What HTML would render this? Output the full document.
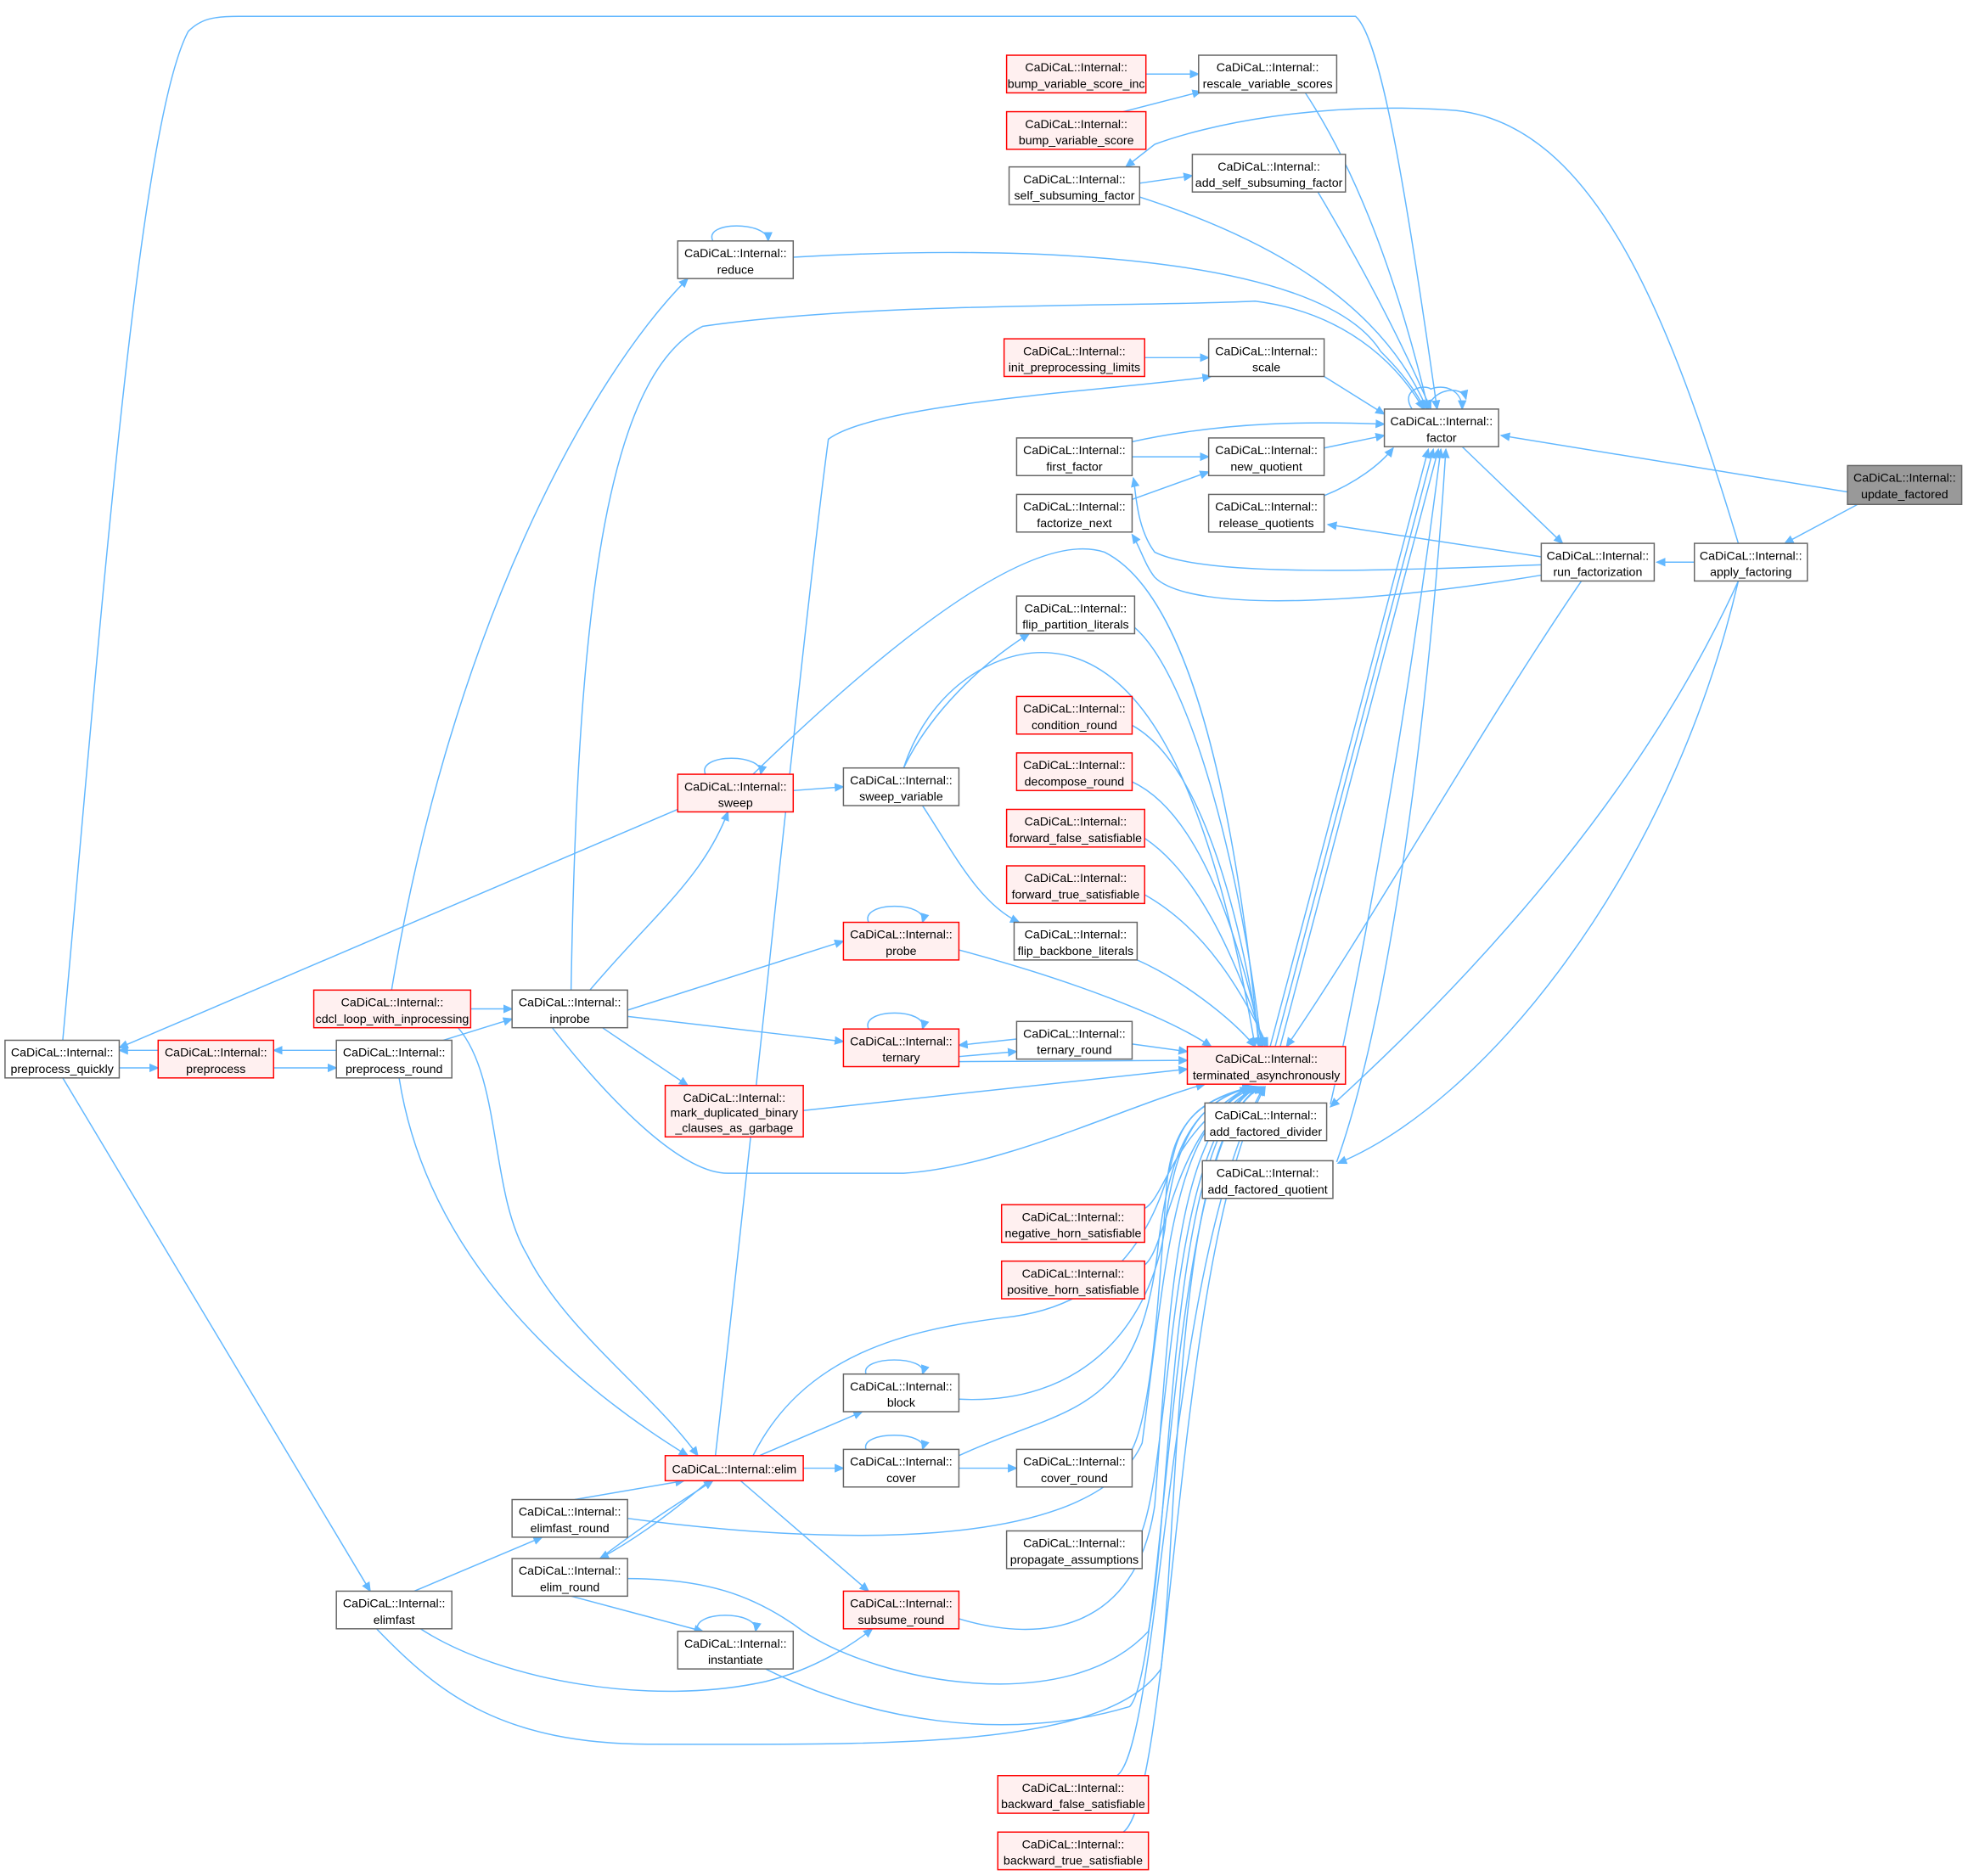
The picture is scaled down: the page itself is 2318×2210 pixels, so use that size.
<!DOCTYPE html>
<html><head><meta charset="utf-8"><style>
html,body{margin:0;padding:0;background:#fff;}
svg{display:block;}
text{font-family:"Liberation Sans",sans-serif;font-size:9.6px;fill:#000;text-anchor:middle;}
.e{fill:none;stroke:#63b8ff;stroke-width:1;}
.n{fill:#fff;stroke:#666;stroke-width:1;}
.r{fill:#fff0f0;stroke:#ff0000;stroke-width:1;}
</style></head><body>
<svg width="2318" height="2210" viewBox="0 0 1568 1495" preserveAspectRatio="none" xmlns="http://www.w3.org/2000/svg">
<defs><marker id="a" markerWidth="8" markerHeight="8" refX="7" refY="3.5" orient="auto" markerUnits="userSpaceOnUse"><path d="M0,0 L8,3.5 L0,7 z" fill="#63b8ff"/></marker></defs>
<g class="e" marker-end="url(#a)">
<!-- right side -->
<path d="M1472,392 L1196,347"/>
<path d="M1480,402 L1422,433"/>
<path d="M1350,448 L1320,448"/>
<path d="M1385,433 C1330,250 1270,100 1160,88 C1050,80 960,100 920,115 L897,133"/>
<path d="M1385,463 C1300,650 1150,800 1060,882"/>
<path d="M1385,463 C1330,700 1180,880 1066,927"/>
<path d="M1165,356 L1245,433"/>
<path d="M1230,444 L1058,418"/>
<path d="M1230,450 C1100,455 960,460 920,440 C905,420 905,390 903,381"/>
<path d="M1230,458 C1100,480 950,490 920,460 C912,450 908,435 902,426"/>
<path d="M1260,463 C1180,580 1090,740 1025,834"/>
<!-- into factor -->
<path d="M1040,74 C1090,150 1120,250 1138,326"/>
<path d="M1050,153 C1090,220 1120,280 1140,326"/>
<path d="M908,157 C1010,190 1100,240 1137,326"/>
<path d="M632,205 C800,195 1050,200 1100,280 C1120,300 1130,315 1135,326"/>
<path d="M455,789 C460,500 480,300 560,260 C700,240 900,245 1000,240 C1080,250 1120,300 1134,326"/>
<path d="M50,829 C80,500 110,100 150,25 C160,15 170,13 190,13 L1080,13 C1100,30 1120,150 1145,326"/>
<path d="M1055,300 L1103,330"/>
<path d="M902,352 C980,335 1050,336 1103,338"/>
<path d="M1055,357 L1103,347"/>
<path d="M1055,395 C1080,385 1100,370 1110,357"/>
<path d="M1125,326 C1115,310 1135,306 1140,310 C1150,306 1165,310 1165,326"/>
<path d="M1138,326 C1140,310 1165,306 1168,318"/>
<path d="M1012,834 L1138,358"/>
<path d="M1016,834 L1142,358"/>
<path d="M1020,834 L1146,358"/>
<path d="M1060,880 C1100,700 1130,500 1148,358"/>
<path d="M1065,926 C1110,800 1140,550 1152,358"/>
<!-- top-left group -->
<path d="M913,59 L955,59"/>
<path d="M895,89 L957,73"/>
<path d="M908,146 L950,140"/>
<path d="M912,285 L963,285"/>
<path d="M570,1160 C600,900 640,500 660,350 C700,320 900,310 965,300"/>
<path d="M902,364 L963,364"/>
<path d="M902,398 L963,376"/>
<path d="M312,789 C360,500 470,300 548,222"/>
<path d="M568,192 C560,176 612,176 612,192"/>
<!-- sweep etc -->
<path d="M470,789 C520,730 560,700 580,647"/>
<path d="M540,645 L95,835"/>
<path d="M562,617 C555,600 610,600 606,617"/>
<path d="M632,630 L672,627"/>
<path d="M720,612 C740,570 780,530 820,505"/>
<path d="M735,642 C760,680 780,720 812,735"/>
<path d="M372,804 L408,804"/>
<path d="M350,830 L408,812"/>
<path d="M500,805 L672,750"/>
<path d="M500,810 L672,830"/>
<path d="M480,819 L548,865"/>
<path d="M692,735 C685,718 740,718 735,735"/>
<path d="M692,820 C685,803 740,803 735,820"/>
<path d="M810,828 L764,833"/>
<path d="M764,842 L810,838"/>
<!-- preprocess -->
<path d="M126,837 L95,837"/>
<path d="M95,851 L126,851"/>
<path d="M268,837 L218,837"/>
<path d="M218,851 L268,851"/>
<path d="M318,859 C340,1000 450,1100 548,1160"/>
<path d="M365,819 C400,860 390,950 420,1000 C450,1060 520,1110 556,1160"/>
<path d="M50,859 L295,1268"/>
<path d="M330,1268 L432,1225"/>
<path d="M458,1195 L545,1180"/>
<path d="M565,1180 C530,1210 500,1230 478,1242"/>
<path d="M478,1242 C520,1210 545,1195 568,1180"/>
<path d="M605,1160 L687,1125"/>
<path d="M640,1170 L672,1170"/>
<path d="M764,1170 L810,1170"/>
<path d="M590,1180 L692,1268"/>
<path d="M690,1095 C685,1080 740,1080 735,1095"/>
<path d="M690,1155 C685,1140 740,1140 735,1155"/>
<path d="M455,1272 L560,1300"/>
<path d="M556,1300 C550,1283 605,1283 602,1300"/>
<path d="M335,1298 C400,1340 520,1360 610,1340 C650,1330 680,1310 695,1298"/>
<!-- into terminated -->
<path d="M904,500 C950,540 990,700 1005,834"/>
<path d="M720,612 C740,550 790,520 830,520 C900,520 960,600 1000,834"/>
<path d="M600,617 C700,520 820,420 880,440 C960,480 990,700 1003,834"/>
<path d="M902,578 C960,610 990,740 1004,834"/>
<path d="M902,623 C960,650 990,760 1006,834"/>
<path d="M912,668 C960,700 990,780 1008,834"/>
<path d="M912,713 C960,740 990,790 1010,834"/>
<path d="M906,765 C940,780 980,810 1000,834"/>
<path d="M764,757 C850,780 930,810 965,834"/>
<path d="M902,832 L946,838"/>
<path d="M764,846 L946,845"/>
<path d="M640,885 L946,852"/>
<path d="M440,819 C480,870 540,935 580,935 L720,935 C800,930 900,880 960,864"/>
<path d="M912,963 C928,955 935,900 995,866"/>
<path d="M912,1008 C930,995 935,900 996,866"/>
<path d="M600,1160 C640,1080 720,1060 800,1050 C900,1040 925,960 935,920 C942,890 960,875 997,866"/>
<path d="M764,1115 C860,1120 915,1060 928,980 C936,900 960,875 998,866"/>
<path d="M764,1160 C850,1120 905,1130 922,1000 C932,900 960,875 999,866"/>
<path d="M902,1155 C920,1120 925,1000 930,940 C936,890 960,875 1000,866"/>
<path d="M500,1210 C650,1230 870,1240 910,1150 C930,1000 935,890 1001,866"/>
<path d="M910,1220 C935,1150 930,900 1002,866"/>
<path d="M500,1258 C560,1258 600,1270 640,1300 C700,1340 850,1370 915,1300 C935,1200 930,900 1003,866"/>
<path d="M764,1290 C830,1310 905,1300 920,1200 C932,1050 935,890 1004,866"/>
<path d="M610,1330 C690,1370 800,1390 900,1360 C930,1330 930,900 1005,866"/>
<path d="M300,1298 C350,1350 400,1390 520,1390 C700,1390 880,1395 925,1330 C940,1200 935,900 1006,866"/>
<path d="M890,1415 C925,1390 930,1000 1007,866"/>
<path d="M895,1460 C935,1430 935,1000 1008,866"/>
</g>
<!-- nodes -->
<rect class="n" x="1472" y="371" width="91" height="31" style="fill:#999"/><text x="1517.5" y="384">CaDiCaL::Internal::</text><text x="1517.5" y="397">update_factored</text>
<rect class="n" x="1350" y="433" width="90" height="30"/><text x="1395" y="446">CaDiCaL::Internal::</text><text x="1395" y="459">apply_factoring</text>
<rect class="n" x="1228" y="433" width="90" height="30"/><text x="1273" y="446">CaDiCaL::Internal::</text><text x="1273" y="459">run_factorization</text>
<rect class="n" x="1103" y="326" width="91" height="30"/><text x="1148.5" y="339">CaDiCaL::Internal::</text><text x="1148.5" y="352">factor</text>
<rect class="n" x="955" y="44" width="110" height="30"/><text x="1010" y="57">CaDiCaL::Internal::</text><text x="1010" y="70">rescale_variable_scores</text>
<rect class="r" x="802" y="44" width="111" height="30"/><text x="857.5" y="57">CaDiCaL::Internal::</text><text x="857.5" y="70">bump_variable_score_inc</text>
<rect class="r" x="802" y="89" width="111" height="30"/><text x="857.5" y="102">CaDiCaL::Internal::</text><text x="857.5" y="115">bump_variable_score</text>
<rect class="n" x="950" y="123" width="122" height="30"/><text x="1011" y="136">CaDiCaL::Internal::</text><text x="1011" y="149">add_self_subsuming_factor</text>
<rect class="n" x="804" y="133" width="104" height="30"/><text x="856" y="146">CaDiCaL::Internal::</text><text x="856" y="159">self_subsuming_factor</text>
<rect class="n" x="540" y="192" width="92" height="30"/><text x="586" y="205">CaDiCaL::Internal::</text><text x="586" y="218">reduce</text>
<rect class="r" x="800" y="270" width="112" height="30"/><text x="856" y="283">CaDiCaL::Internal::</text><text x="856" y="296">init_preprocessing_limits</text>
<rect class="n" x="963" y="270" width="92" height="30"/><text x="1009" y="283">CaDiCaL::Internal::</text><text x="1009" y="296">scale</text>
<rect class="n" x="810" y="349" width="92" height="30"/><text x="856" y="362">CaDiCaL::Internal::</text><text x="856" y="375">first_factor</text>
<rect class="n" x="963" y="349" width="92" height="30"/><text x="1009" y="362">CaDiCaL::Internal::</text><text x="1009" y="375">new_quotient</text>
<rect class="n" x="810" y="394" width="92" height="30"/><text x="856" y="407">CaDiCaL::Internal::</text><text x="856" y="420">factorize_next</text>
<rect class="n" x="963" y="394" width="92" height="30"/><text x="1009" y="407">CaDiCaL::Internal::</text><text x="1009" y="420">release_quotients</text>
<rect class="n" x="810" y="475" width="94" height="30"/><text x="857" y="488">CaDiCaL::Internal::</text><text x="857" y="501">flip_partition_literals</text>
<rect class="r" x="810" y="555" width="92" height="30"/><text x="856" y="568">CaDiCaL::Internal::</text><text x="856" y="581">condition_round</text>
<rect class="r" x="810" y="600" width="92" height="30"/><text x="856" y="613">CaDiCaL::Internal::</text><text x="856" y="626">decompose_round</text>
<rect class="r" x="802" y="645" width="110" height="30"/><text x="857" y="658">CaDiCaL::Internal::</text><text x="857" y="671">forward_false_satisfiable</text>
<rect class="r" x="802" y="690" width="110" height="30"/><text x="857" y="703">CaDiCaL::Internal::</text><text x="857" y="716">forward_true_satisfiable</text>
<rect class="n" x="808" y="735" width="98" height="30"/><text x="857" y="748">CaDiCaL::Internal::</text><text x="857" y="761">flip_backbone_literals</text>
<rect class="r" x="540" y="617" width="92" height="30"/><text x="586" y="630">CaDiCaL::Internal::</text><text x="586" y="643">sweep</text>
<rect class="n" x="672" y="612" width="92" height="30"/><text x="718" y="625">CaDiCaL::Internal::</text><text x="718" y="638">sweep_variable</text>
<rect class="r" x="672" y="735" width="92" height="30"/><text x="718" y="748">CaDiCaL::Internal::</text><text x="718" y="761">probe</text>
<rect class="r" x="672" y="820" width="92" height="30"/><text x="718" y="833">CaDiCaL::Internal::</text><text x="718" y="846">ternary</text>
<rect class="n" x="810" y="814" width="92" height="30"/><text x="856" y="827">CaDiCaL::Internal::</text><text x="856" y="840">ternary_round</text>
<rect class="r" x="946" y="834" width="126" height="30"/><text x="1009" y="847">CaDiCaL::Internal::</text><text x="1009" y="860">terminated_asynchronously</text>
<rect class="n" x="408" y="789" width="92" height="30"/><text x="454" y="802">CaDiCaL::Internal::</text><text x="454" y="815">inprobe</text>
<rect class="r" x="250" y="789" width="125" height="30"/><text x="312.5" y="802">CaDiCaL::Internal::</text><text x="312.5" y="815">cdcl_loop_with_inprocessing</text>
<rect class="n" x="4" y="829" width="91" height="30"/><text x="49.5" y="842">CaDiCaL::Internal::</text><text x="49.5" y="855">preprocess_quickly</text>
<rect class="r" x="126" y="829" width="92" height="30"/><text x="172" y="842">CaDiCaL::Internal::</text><text x="172" y="855">preprocess</text>
<rect class="n" x="268" y="829" width="92" height="30"/><text x="314" y="842">CaDiCaL::Internal::</text><text x="314" y="855">preprocess_round</text>
<rect class="r" x="530" y="865" width="110" height="41"/><text x="585" y="878">CaDiCaL::Internal::</text><text x="585" y="890">mark_duplicated_binary</text><text x="585" y="902">_clauses_as_garbage</text>
<rect class="n" x="960" y="879" width="97" height="30"/><text x="1008.5" y="892">CaDiCaL::Internal::</text><text x="1008.5" y="905">add_factored_divider</text>
<rect class="n" x="958" y="925" width="104" height="30"/><text x="1010" y="938">CaDiCaL::Internal::</text><text x="1010" y="951">add_factored_quotient</text>
<rect class="r" x="798" y="960" width="114" height="30"/><text x="855" y="973">CaDiCaL::Internal::</text><text x="855" y="986">negative_horn_satisfiable</text>
<rect class="r" x="798" y="1005" width="114" height="30"/><text x="855" y="1018">CaDiCaL::Internal::</text><text x="855" y="1031">positive_horn_satisfiable</text>
<rect class="n" x="672" y="1095" width="92" height="30"/><text x="718" y="1108">CaDiCaL::Internal::</text><text x="718" y="1121">block</text>
<rect class="r" x="530" y="1160" width="110" height="20"/><text x="585" y="1174">CaDiCaL::Internal::elim</text>
<rect class="n" x="672" y="1155" width="92" height="30"/><text x="718" y="1168">CaDiCaL::Internal::</text><text x="718" y="1181">cover</text>
<rect class="n" x="810" y="1155" width="92" height="30"/><text x="856" y="1168">CaDiCaL::Internal::</text><text x="856" y="1181">cover_round</text>
<rect class="n" x="408" y="1195" width="92" height="30"/><text x="454" y="1208">CaDiCaL::Internal::</text><text x="454" y="1221">elimfast_round</text>
<rect class="n" x="408" y="1242" width="92" height="30"/><text x="454" y="1255">CaDiCaL::Internal::</text><text x="454" y="1268">elim_round</text>
<rect class="n" x="268" y="1268" width="92" height="30"/><text x="314" y="1281">CaDiCaL::Internal::</text><text x="314" y="1294">elimfast</text>
<rect class="n" x="802" y="1220" width="108" height="30"/><text x="856" y="1233">CaDiCaL::Internal::</text><text x="856" y="1246">propagate_assumptions</text>
<rect class="r" x="672" y="1268" width="92" height="30"/><text x="718" y="1281">CaDiCaL::Internal::</text><text x="718" y="1294">subsume_round</text>
<rect class="n" x="540" y="1300" width="92" height="30"/><text x="586" y="1313">CaDiCaL::Internal::</text><text x="586" y="1326">instantiate</text>
<rect class="r" x="795" y="1415" width="120" height="30"/><text x="855" y="1428">CaDiCaL::Internal::</text><text x="855" y="1441">backward_false_satisfiable</text>
<rect class="r" x="795" y="1460" width="120" height="30"/><text x="855" y="1473">CaDiCaL::Internal::</text><text x="855" y="1486">backward_true_satisfiable</text>
</svg>
</body></html>
